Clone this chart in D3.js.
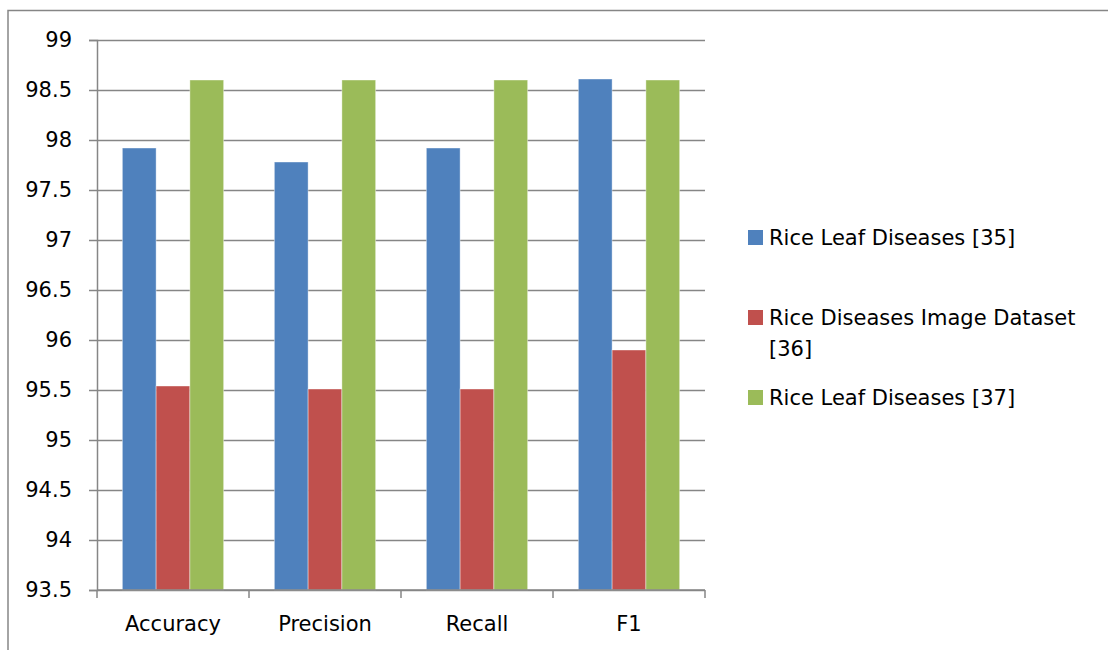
<!DOCTYPE html>
<html>
<head>
<meta charset="utf-8">
<script src="https://cdn.jsdelivr.net/npm/d3@7"></script>
<style>
  body { margin: 0; background: #fff; }
  svg text { font-family: "DejaVu Sans", sans-serif; fill: #000; }
</style>
</head>
<body>
<div id="chart"></div>
<script>
const categories = ["Accuracy", "Precision", "Recall", "F1"];
const seriesNames = ["Rice Leaf Diseases [35]", "Rice Diseases Image Dataset [36]", "Rice Leaf Diseases [37]"];
const series35 = [97.92, 97.78, 97.92, 98.61];
const series36 = [95.54, 95.51, 95.51, 95.90];
const series37 = [98.60, 98.60, 98.60, 98.60];
const yTicks = [93.5, 94, 94.5, 95, 95.5, 96, 96.5, 97, 97.5, 98, 98.5, 99];
const colors = ["#4F81BD", "#C0504D", "#9BBB59"];

const W = 1108, H = 650;
const plot = { left: 97, right: 705, top: 40, bottom: 590 };
const gridColor = "#868686";

const svg = d3.select("#chart").append("svg")
  .attr("width", W).attr("height", H);

// outer frame (runs off the right/bottom of the picture)
svg.append("rect")
  .attr("x", 8).attr("y", 10.5)
  .attr("width", 1300).attr("height", 800)
  .attr("fill", "none").attr("stroke", gridColor).attr("stroke-width", 1.5);

const y = d3.scaleLinear().domain([93.5, 99]).range([plot.bottom, plot.top]);
const x = d3.scaleBand().domain(categories).range([plot.left, plot.right]).padding(0);
const xs = d3.scaleBand().domain(seriesNames).range([0, x.bandwidth()])
  .paddingInner(0).paddingOuter(0.75);

// gridlines + y axis
svg.append("g")
  .attr("transform", `translate(${plot.left},0)`)
  .call(d3.axisLeft(y).tickValues(yTicks).tickSize(8).tickPadding(17)
    .tickFormat(d3.format("")))
  .call(g => g.select(".domain").attr("stroke", gridColor).attr("stroke-width", 1.5))
  .call(g => g.selectAll(".tick line").attr("stroke", gridColor).attr("stroke-width", 1.5))
  .call(g => g.selectAll(".tick").append("line")
    .attr("x1", 0).attr("x2", plot.right - plot.left)
    .attr("stroke", gridColor).attr("stroke-width", 1.5))
  .call(g => g.selectAll(".tick text")
    .style("font-family", "DejaVu Sans").style("font-size", "21px").attr("fill", "#000"));

// bars
const rows = categories.map((c, i) => ({ cat: c, vals: [series35[i], series36[i], series37[i]] }));
svg.append("g").selectAll("g")
  .data(rows).join("g")
  .attr("transform", d => `translate(${x(d.cat)},0)`)
  .selectAll("rect")
  .data(d => d.vals.map((v, k) => ({ name: seriesNames[k], v, k })))
  .join("rect")
  .attr("x", d => xs(d.name))
  .attr("width", xs.bandwidth())
  .attr("y", d => y(d.v))
  .attr("height", d => y(93.5) - y(d.v))
  .attr("fill", d => colors[d.k])
  .attr("stroke", "#fff").attr("stroke-opacity", 0.5).attr("stroke-width", 0.8);

// x axis
const xTickPos = categories.map(c => x(c)).concat([x.range()[1]]);
const xa = svg.append("g");
xa.append("line")
  .attr("x1", plot.left).attr("x2", plot.right)
  .attr("y1", y(93.5)).attr("y2", y(93.5))
  .attr("stroke", gridColor).attr("stroke-width", 1.5);
xa.selectAll("line.tk").data(xTickPos).join("line")
  .attr("class", "tk")
  .attr("x1", d => d).attr("x2", d => d)
  .attr("y1", y(93.5)).attr("y2", y(93.5) + 8)
  .attr("stroke", gridColor).attr("stroke-width", 1.5);
xa.selectAll("text").data(categories).join("text")
  .attr("x", d => x(d) + x.bandwidth() / 2)
  .attr("y", 631)
  .attr("text-anchor", "middle")
  .style("font-size", "21px")
  .text(d => d);

// legend
const legendLines = [["Rice Leaf Diseases [35]"], ["Rice Diseases Image Dataset", "[36]"], ["Rice Leaf Diseases [37]"]];
const legendY = [245, 325, 405];
const lg = svg.append("g");
legendLines.forEach((lines, i) => {
  lg.append("rect")
    .attr("x", 748).attr("y", legendY[i] - 15)
    .attr("width", 15).attr("height", 15)
    .attr("fill", colors[i]);
  const t = lg.append("text")
    .attr("x", 769).attr("y", legendY[i])
    .style("font-size", "21px");
  lines.forEach((s, j) => t.append("tspan")
    .attr("x", 769).attr("dy", j === 0 ? 0 : 31).text(s));
});
</script>
</body>
</html>
